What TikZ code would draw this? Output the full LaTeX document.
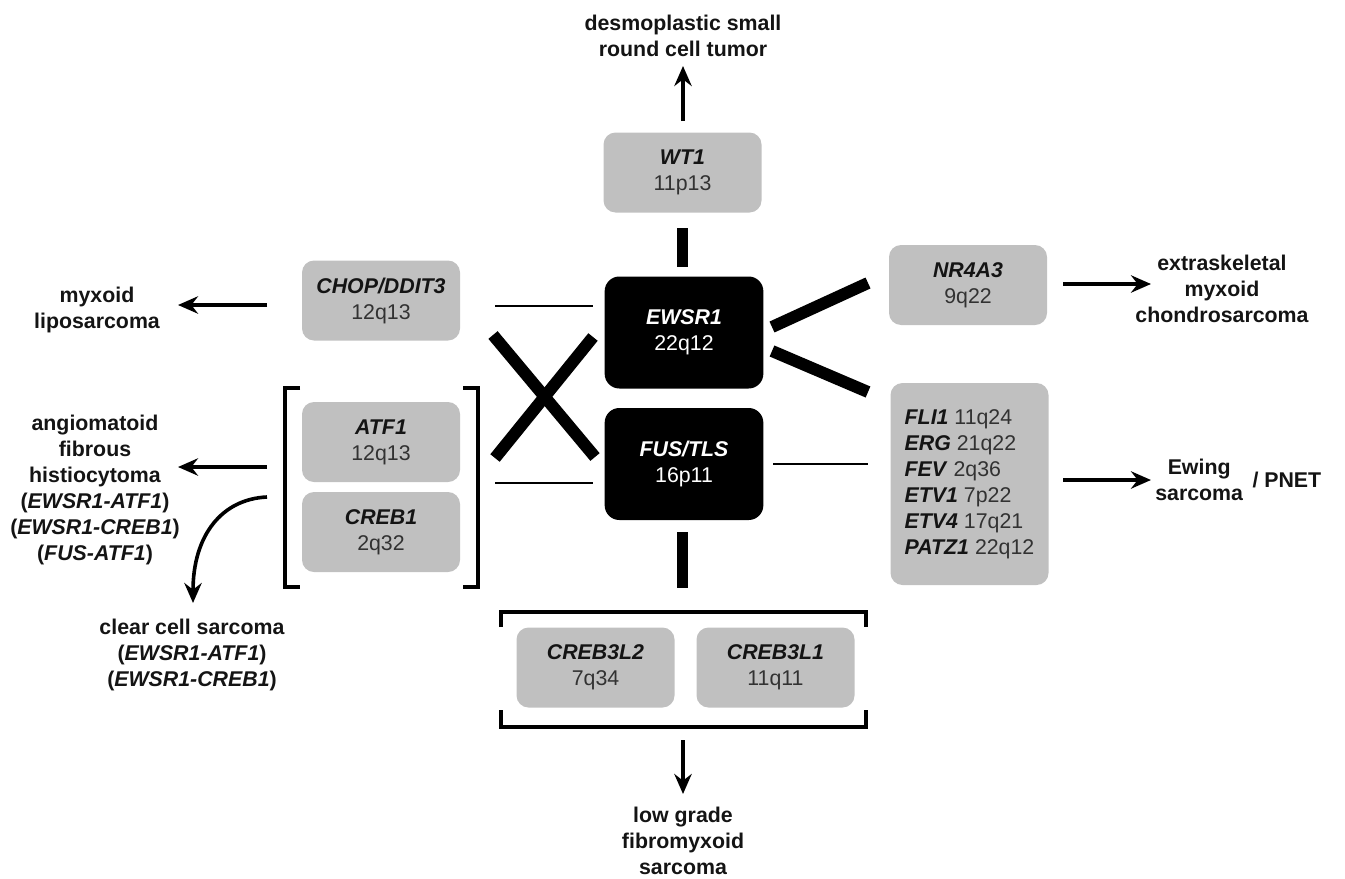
\documentclass[tikz,border=0pt]{standalone}
\usepackage{fontspec}
\setmainfont{Liberation Sans}
\usetikzlibrary{arrows.meta}
\definecolor{boxgray}{RGB}{192,192,192}
\definecolor{loc}{RGB}{50,50,50}
\definecolor{ink}{RGB}{20,20,20}
\newcommand{\gn}[1]{\textbf{\textit{#1}}}
\newcommand{\lc}[1]{\textcolor{loc}{#1}}
\tikzset{
  gbox/.style={fill=boxgray, rounded corners=9pt, minimum width=118.5pt, minimum height=60pt,
    align=center, inner sep=0pt, text=ink, font=\fontsize{16}{19.5}\selectfont},
  bbox/.style={fill=black, rounded corners=11pt, minimum width=119pt, minimum height=84pt,
    align=center, inner sep=0pt, text=white, font=\fontsize{16}{19.5}\selectfont},
  lab/.style={font=\fontsize{16}{19.5}\selectfont\bfseries, align=center, inner sep=0pt, text=ink},
  thinline/.style={line width=2.2pt},
  thickline/.style={line width=9pt},
  vbar/.style={line width=8pt},
  arr/.style={line width=2.7pt, -{Stealth[length=15pt,width=13pt,inset=5pt]}},
  brk/.style={line width=3pt}
}
\begin{document}
\begin{tikzpicture}[x=0.75pt,y=-0.75pt]
\useasboundingbox (0,0) rectangle (1345,878);

% central boxes
\node[bbox] (ewsr) at (684,332.5) {\gn{EWSR1}\\22q12};
\node[bbox] (fus) at (684,464) {\gn{FUS/TLS}\\16p11};

% gray boxes
\node[gbox] (wt1) at (682.5,172.5) {\gn{WT1}\\\lc{11p13}};
\node[gbox] (chop) at (381,300.5) {\gn{CHOP/DDIT3}\\\lc{12q13}};
\node[gbox] (atf1) at (381,442) {\gn{ATF1}\\\lc{12q13}};
\node[gbox] (creb1) at (381,532) {\gn{CREB1}\\\lc{2q32}};
\node[gbox] (nr4a3) at (968,285) {\gn{NR4A3}\\\lc{9q22}};
\node[gbox, minimum height=151.5pt, align=left] (ets) at (969.5,484)
  {\gn{FLI1} \lc{11q24}\\\gn{ERG} \lc{21q22}\\\gn{FEV} \lc{2q36}\\\gn{ETV1} \lc{7p22}\\\gn{ETV4} \lc{17q21}\\\gn{PATZ1} \lc{22q12}};
\node[gbox] (cr3l2) at (595.5,667.5) {\gn{CREB3L2}\\\lc{7q34}};
\node[gbox] (cr3l1) at (775.5,667.5) {\gn{CREB3L1}\\\lc{11q11}};

% labels
\node[lab] (dsrct) at (683,36) {desmoplastic small\\round cell tumor};
\node[lab] (mlps) at (97,310) {myxoid\\liposarcoma};
\node[lab] (afh) at (95,490) {angiomatoid\\fibrous\\histiocytoma\\(\textit{EWSR1-ATF1})\\(\textit{EWSR1-CREB1})\\(\textit{FUS-ATF1})};
\node[lab] (ccs) at (192,655) {clear cell sarcoma\\(\textit{EWSR1-ATF1})\\(\textit{EWSR1-CREB1})};
\node[lab] (emc) at (1222,289) {extraskeletal\\myxoid\\chondrosarcoma};
\node[lab, anchor=west] (ews) at (1155,482) {\begin{tabular}{@{}c@{}}Ewing\\sarcoma\end{tabular}\ \,/ PNET};
\node[lab] (lgfms) at (683,841) {low grade\\fibromyxoid\\sarcoma};

% brackets
\draw[brk] (300,388) -- (285,388) -- (285,587) -- (300,587);
\draw[brk] (463,388) -- (478,388) -- (478,587) -- (463,587);
\draw[brk] (501,627) -- (501,612) -- (866,612) -- (866,627);
\draw[brk] (501,710) -- (501,727) -- (866,727) -- (866,710);

% connector coordinates
\coordinate (w1) at (682.5,228); \coordinate (w2) at (682.5,267);
\coordinate (f1) at (682.5,532); \coordinate (f2) at (682.5,588);
\coordinate (ch1) at (495,306); \coordinate (ch2) at (593,306);
\coordinate (fu1) at (495,483); \coordinate (fu2) at (593,483);
\coordinate (xa1) at (493,335); \coordinate (xa2) at (595,457);
\coordinate (xb1) at (593,337); \coordinate (xb2) at (495,458);
\coordinate (n1) at (772,327); \coordinate (n2) at (868,283);
\coordinate (e1) at (772,351); \coordinate (e2) at (868,392);
\coordinate (r1) at (773,464); \coordinate (r2) at (868,464);

\draw[vbar] (w1) -- (w2);
\draw[vbar] (f1) -- (f2);
\draw[thinline] (ch1) -- (ch2);
\draw[thinline] (fu1) -- (fu2);
\draw[thickline] (xa1) -- (xa2);
\draw[thickline] (xb1) -- (xb2);
\draw[thickline] (n1) -- (n2);
\draw[thickline] (e1) -- (e2);
\draw[thinline] (r1) -- (r2);

% arrows
\coordinate (a-up0) at (683,121); \coordinate (a-up1) at (683,66);
\coordinate (a-ml0) at (267,305); \coordinate (a-ml1) at (178,305);
\coordinate (a-af0) at (267,467); \coordinate (a-af1) at (178,467);
\coordinate (a-cc0) at (267,497); \coordinate (a-cc1) at (193,603);
\coordinate (a-em0) at (1063,284); \coordinate (a-em1) at (1151,284);
\coordinate (a-ew0) at (1063,480); \coordinate (a-ew1) at (1151,480);
\coordinate (a-lg0) at (683,740); \coordinate (a-lg1) at (683,794);

\draw[arr] (a-up0) -- (a-up1);
\draw[arr] (a-ml0) -- (a-ml1);
\draw[arr] (a-af0) -- (a-af1);
\draw[arr] (a-cc0) .. controls (222,499) and (193,535) .. (a-cc1);
\draw[arr] (a-em0) -- (a-em1);
\draw[arr] (a-ew0) -- (a-ew1);
\draw[arr] (a-lg0) -- (a-lg1);
\end{tikzpicture}
\end{document}
